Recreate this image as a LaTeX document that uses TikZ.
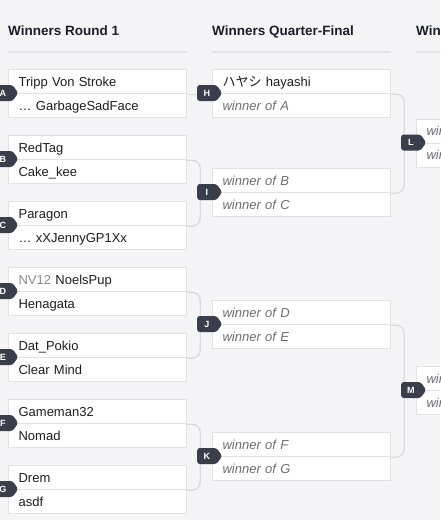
\documentclass[tikz,border=0pt]{standalone}
\usepackage{fontspec}
\setmainfont{Liberation Sans}
\newfontfamily\cjk{Noto Sans CJK JP}
\usetikzlibrary{shapes.symbols}
\definecolor{bg}{HTML}{F5F5F7}
\definecolor{boxline}{HTML}{E2E2E5}
\definecolor{conncol}{HTML}{DADADD}
\definecolor{sepcol}{HTML}{E4E4E7}
\definecolor{headtext}{HTML}{1C1F2A}
\definecolor{nametext}{HTML}{1E1E22}
\definecolor{tbdtext}{HTML}{6E6E74}
\definecolor{tagtext}{HTML}{8A8A90}
\definecolor{badgecol}{HTML}{3A3E4A}
\begin{document}
\begin{tikzpicture}[x=1pt,y=-1pt,
  row/.style={draw=boxline, fill=white, line width=1.2pt, minimum height=24pt,
    text width=158pt, inner xsep=10pt, inner ysep=0pt, align=left,
    anchor=north west, text height=9.3pt, text depth=0pt,
    font=\fontsize{13}{15}\selectfont, text=nametext},
  tbd/.style={row, text=tbdtext, font=\itshape\fontsize{13}{15}\selectfont},
  badge/.style={signal, signal to=east, signal pointer angle=110, fill=badgecol,
    text=white, font=\bfseries\fontsize{9}{9}\selectfont, minimum width=25pt,
    minimum height=16pt, inner sep=0pt, rounded corners=2.5pt, anchor=west},
  conn/.style={draw=conncol, line width=1.3pt, rounded corners=8pt},
  sep/.style={draw=sepcol, line width=1.2pt},
  head/.style={anchor=base west, inner sep=0pt, text=headtext,
    font=\bfseries\fontsize{13.5}{16}\selectfont}]
\clip (0,0) rectangle (440,520);
\fill[bg] (0,0) rectangle (440,520);

% headers
\node[head] (h1) at (8,35) {Winners Round 1};
\node[head] (h2) at (212,35) {Winners Quarter-Final};
\node[head] (h3) at (416,35) {Winners Semi-Final};
\draw[sep] (8,52) -- (187,52);
\draw[sep] (212,52) -- (391,52);
\draw[sep] (416,52) -- (600,52);

% column 1
\node[row] (A1) at (8,69) {Tripp Von Stroke};
\node[row] (A2) at (8,93) {… GarbageSadFace};
\node[row] (B1) at (8,135) {RedTag};
\node[row] (B2) at (8,159) {Cake\_kee};
\node[row] (C1) at (8,201) {Paragon};
\node[row] (C2) at (8,225) {… xXJennyGP1Xx};
\node[row] (D1) at (8,267) {\textcolor{tagtext}{NV12} NoelsPup};
\node[row] (D2) at (8,291) {Henagata};
\node[row] (E1) at (8,333) {Dat\_Pokio};
\node[row] (E2) at (8,357) {Clear Mind};
\node[row] (F1) at (8,399) {Gameman32};
\node[row] (F2) at (8,423) {Nomad};
\node[row] (G1) at (8,465) {Drem};
\node[row] (G2) at (8,489) {asdf};

% column 2
\node[row] (H1) at (212,69) {{\cjk ハヤシ} hayashi};
\node[tbd] (H2) at (212,93) {winner of A};
\node[tbd] (I1) at (212,168) {winner of B};
\node[tbd] (I2) at (212,192) {winner of C};
\node[tbd] (J1) at (212,300) {winner of D};
\node[tbd] (J2) at (212,324) {winner of E};
\node[tbd] (K1) at (212,432) {winner of F};
\node[tbd] (K2) at (212,456) {winner of G};

% column 3
\node[tbd] (L1) at (416,118.5) {winner of H};
\node[tbd] (L2) at (416,142.5) {winner of I};
\node[tbd] (M1) at (416,366) {winner of J};
\node[tbd] (M2) at (416,390) {winner of K};

% connectors
\begin{scope}[on background layer/.style={}]
\end{scope}
\draw[conn] (A1.south east) -- (H1.south west);
\draw[conn] (B1.south east) -- ++(13,0) |- (C1.south east);
\draw[conn] (I1.south west) -- ++(-13,0);
\draw[conn] (D1.south east) -- ++(13,0) |- (E1.south east);
\draw[conn] (J1.south west) -- ++(-13,0);
\draw[conn] (F1.south east) -- ++(13,0) |- (G1.south east);
\draw[conn] (K1.south west) -- ++(-13,0);
\draw[conn] (H1.south east) -- ++(13,0) |- (I1.south east);
\draw[conn] (L1.south west) -- ++(-13,0);
\draw[conn] (J1.south east) -- ++(13,0) |- (K1.south east);
\draw[conn] (M1.south west) -- ++(-13,0);

% badges
\node[badge] (bA) at (-7,93) {A};
\node[badge] (bB) at (-7,159) {B};
\node[badge] (bC) at (-7,225) {C};
\node[badge] (bD) at (-7,291) {D};
\node[badge] (bE) at (-7,357) {E};
\node[badge] (bF) at (-7,423) {F};
\node[badge] (bG) at (-7,489) {G};
\node[badge] (bH) at (197,93) {H};
\node[badge] (bI) at (197,192) {I};
\node[badge] (bJ) at (197,324) {J};
\node[badge] (bK) at (197,456) {K};
\node[badge] (bL) at (401,142.5) {L};
\node[badge] (bM) at (401,390) {M};
\end{tikzpicture}
\end{document}
